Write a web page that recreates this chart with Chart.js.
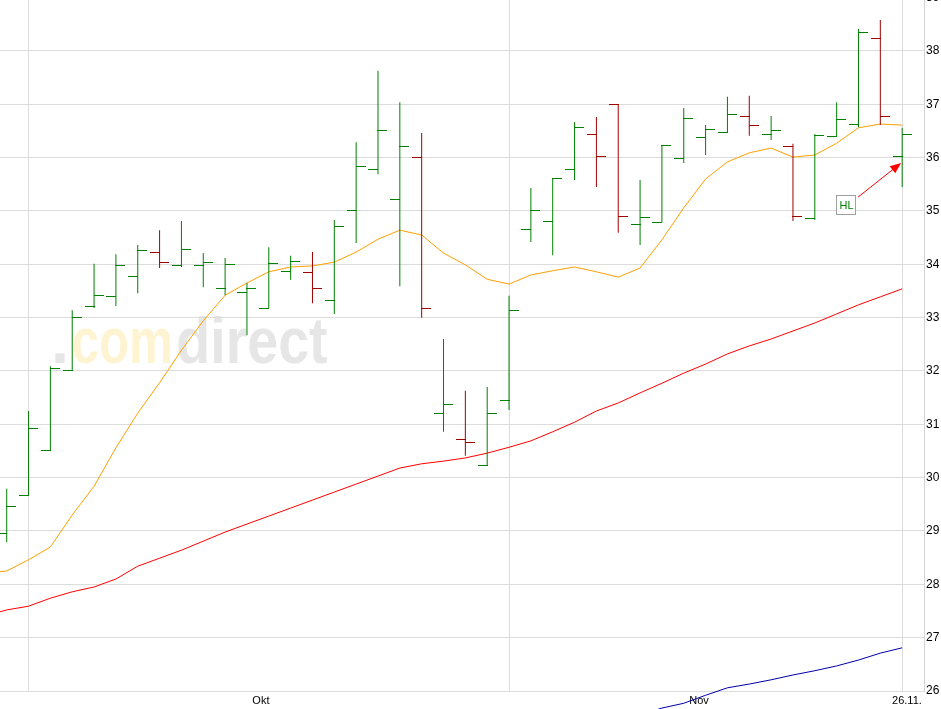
<!DOCTYPE html>
<html lang="de">
<head>
<meta charset="UTF-8">
<title>Kursverlauf</title>
<script src="https://cdn.jsdelivr.net/npm/chart.js"></script>
<style>
  html, body { margin: 0; padding: 0; background: #fff; }
  canvas { display: block; }
</style>
</head>
<body>
<canvas id="kurs" width="941" height="709"></canvas>
<script>
// Handelstage: Index 0 = erster Balken links, 41 = 26.11.
var eroeffnung = [28.96, 29.67, 30.5, 32.0, 33.2, 33.39, 33.78, 34.23, 33.97, 33.97,
  33.54, 33.48, 33.18, 33.86, 33.84, 33.33, 35.0, 35.77, 35.21, 36.0,
  31.21, 30.71, 30.22, 31.44, 34.66, 34.81, 35.77, 36.44, 37.0, 34.74,
  34.79, 35.99, 36.37, 36.48, 36.78, 36.44, 36.2, 34.85, 36.39, 36.63,
  38.24, 36.03];
var hoch = [29.79, 31.25, 32.09, 33.14, 34.01, 34.19, 34.36, 34.64, 34.81, 34.21,
  34.12, 33.65, 34.32, 34.16, 34.23, 34.83, 36.29, 37.63, 37.04, 36.46,
  32.6, 31.63, 31.7, 33.41, 35.43, 35.6, 36.67, 36.76, 37.0, 35.58,
  36.22, 36.93, 36.61, 37.14, 37.16, 36.78, 36.26, 36.44, 37.04, 38.41,
  38.58, 36.56];
var tief = [28.79, 29.67, 30.5, 32.0, 33.18, 33.22, 33.46, 33.93, 33.95, 33.57,
  33.42, 32.67, 33.18, 33.71, 33.27, 33.07, 34.4, 35.69, 33.59, 33.0,
  30.86, 30.41, 30.22, 31.27, 34.42, 34.17, 35.58, 35.45, 34.59, 34.36,
  34.79, 35.9, 36.05, 36.48, 36.41, 36.33, 34.81, 34.83, 36.39, 36.57,
  36.61, 35.45];
var schluss = [29.45, 30.93, 32.04, 33.01, 33.42, 33.97, 34.25, 34.04, 34.28, 34.04,
  34.0, 33.54, 34.02, 34.06, 33.54, 34.7, 35.83, 36.5, 36.2, 33.18,
  31.38, 30.65, 31.21, 33.14, 35.0, 35.6, 36.57, 36.03, 34.89, 34.87,
  36.22, 36.74, 36.52, 36.8, 36.61, 36.5, 34.9, 36.41, 36.71, 38.34,
  36.78, 36.44];

// gleitende Durchschnitte, beginnend bei Index -1
var gdKurz = [28.21, 28.25, 28.46, 28.7, 29.3, 29.84, 30.56, 31.21, 31.78, 32.39,
  32.94, 33.42, 33.65, 33.86, 33.95, 33.97, 34.04, 34.23, 34.47, 34.64,
  34.55, 34.21, 33.99, 33.72, 33.63, 33.8, 33.88, 33.95, 33.86, 33.76,
  33.93, 34.46, 35.06, 35.6, 35.92, 36.09, 36.18, 36.01, 36.05, 36.27,
  36.56, 36.63, 36.61];
var gdMittel = [27.41, 27.52, 27.59, 27.74, 27.86, 27.95, 28.1, 28.34, 28.49, 28.64,
  28.81, 28.98, 29.13, 29.28, 29.43, 29.58, 29.73, 29.88, 30.03, 30.18,
  30.26, 30.31, 30.37, 30.46, 30.57, 30.69, 30.86, 31.04, 31.25, 31.4,
  31.59, 31.77, 31.96, 32.13, 32.32, 32.47, 32.6, 32.75, 32.9, 33.07,
  33.24, 33.39, 33.54];
// langer Durchschnitt, beginnend bei Index 29
var gdLang = [25.55, 25.68, 25.77, 25.92, 26.06, 26.13, 26.21, 26.3, 26.38, 26.47,
  26.58, 26.71, 26.81];

var gitterTage = [1, 23, 41];
var datumsTage = [11.64, 31.7, 41.22];
var datumsTexte = ["Okt", "Nov", "26.11."];
var preisTicks = [26, 27, 28, 29, 30, 31, 32, 33, 34, 35, 36, 37, 38, 39];

// Hinweis "HL" mit Pfeil (Index, Kurs)
var hlBox = [38.41, 35.12];
var pfeilVon = [38.98, 35.26];
var pfeilNach = [40.95, 35.9];

var gruen = "#008000";
var rot = "#a00000";

// Eroeffnungs-/Schlussstriche als kleine Bilder
function strichBild(farbe, links) {
  var c = document.createElement("canvas");
  c.width = 19;
  c.height = 1;
  var g = c.getContext("2d");
  g.fillStyle = farbe;
  g.fillRect(links ? 0 : 9, 0, 10, 1);
  return c;
}
var offenGruen = strichBild(gruen, true);
var offenRot = strichBild(rot, true);
var schlussGruen = strichBild(gruen, false);
var schlussRot = strichBild(rot, false);

var spannen = [], offenPunkte = [], schlussPunkte = [];
var farben = [], offenStil = [], schlussStil = [];
for (var i = 0; i < eroeffnung.length; i++) {
  var steigt = schluss[i] >= eroeffnung[i];
  spannen.push({ x: i, y: [tief[i], hoch[i]] });
  offenPunkte.push({ x: i, y: eroeffnung[i] });
  schlussPunkte.push({ x: i, y: schluss[i] });
  farben.push(steigt ? gruen : rot);
  offenStil.push(steigt ? offenGruen : offenRot);
  schlussStil.push(steigt ? schlussGruen : schlussRot);
}

var linieKurz = gdKurz.map(function (v, k) { return { x: k - 1, y: v }; });
var linieMittel = gdMittel.map(function (v, k) { return { x: k - 1, y: v }; });
var linieLang = gdLang.map(function (v, k) { return { x: k + 29, y: v }; });

var wasserzeichen = {
  id: "wasserzeichen",
  beforeDraw: function (chart) {
    var c = chart.ctx;
    c.save();
    c.fillStyle = "#fff";
    c.fillRect(0, 0, chart.width, chart.height);
    c.font = 'bold 65px "Liberation Sans"';
    function teil(text, x0, breite, farbe) {
      var m = c.measureText(text);
      var w = m.actualBoundingBoxLeft + m.actualBoundingBoxRight;
      var f = breite / w;
      c.save();
      c.translate(x0 + m.actualBoundingBoxLeft * f, 363);
      c.scale(f, 1);
      c.fillStyle = farbe;
      c.fillText(text, 0, 0);
      c.restore();
    }
    teil(".", 55, 10, "#e6e6e6");
    teil("com", 73, 97, "#fff4d2");
    teil("direct", 178, 149, "#e6e6e6");
    c.restore();
  },
  beforeDatasetsDraw: function (chart) {
    chart.ctx.imageSmoothingEnabled = false;
  }
};

var hinweis = {
  id: "hinweis",
  afterDatasetsDraw: function (chart) {
    var sx = chart.scales.x, sy = chart.scales.y, c = chart.ctx;
    c.save();
    // Pfeil
    var x1 = sx.getPixelForValue(pfeilVon[0]), y1 = sy.getPixelForValue(pfeilVon[1]);
    var x2 = sx.getPixelForValue(pfeilNach[0]), y2 = sy.getPixelForValue(pfeilNach[1]);
    var w = Math.atan2(y2 - y1, x2 - x1);
    c.strokeStyle = "#ff0000";
    c.fillStyle = "#ff0000";
    c.lineWidth = 1;
    c.beginPath();
    c.moveTo(x1, y1);
    c.lineTo(x2 - 8 * Math.cos(w), y2 - 8 * Math.sin(w));
    c.stroke();
    c.beginPath();
    c.moveTo(x2, y2);
    c.lineTo(x2 - 11 * Math.cos(w) + 4.5 * Math.sin(w), y2 - 11 * Math.sin(w) - 4.5 * Math.cos(w));
    c.lineTo(x2 - 11 * Math.cos(w) - 4.5 * Math.sin(w), y2 - 11 * Math.sin(w) + 4.5 * Math.cos(w));
    c.closePath();
    c.fill();
    // Kasten
    var bx = Math.round(sx.getPixelForValue(hlBox[0])), by = Math.round(sy.getPixelForValue(hlBox[1]));
    c.fillStyle = "#fff";
    c.fillRect(bx - 9, by - 9, 19, 19);
    c.strokeStyle = "#a0a0a0";
    c.strokeRect(bx - 9.5, by - 9.5, 19, 19);
    c.fillStyle = gruen;
    c.font = '11px "Liberation Sans"';
    c.textAlign = "center";
    c.textBaseline = "middle";
    c.fillText("HL", bx + 0.5, by + 1);
    c.restore();
  }
};

Chart.defaults.font.family = '"Liberation Sans", Arial, sans-serif';

new Chart(document.getElementById("kurs"), {
  type: "bar",
  data: {
    datasets: [
      {
        type: "scatter",
        data: schlussPunkte,
        pointStyle: schlussStil,
        pointRadius: 5,
      },
      {
        type: "scatter",
        data: offenPunkte,
        pointStyle: offenStil,
        pointRadius: 5,
      },
      {
        type: "bar",
        data: spannen,
        backgroundColor: farben,
        barThickness: 1,
        borderWidth: 0,
        inflateAmount: 0,
      },
      {
        type: "line",
        data: linieKurz,
        borderColor: "#ffa000",
        borderWidth: 1,
        pointRadius: 0,
        tension: 0,
        fill: false,
      },
      {
        type: "line",
        data: linieMittel,
        borderColor: "#ff0000",
        borderWidth: 1,
        pointRadius: 0,
        tension: 0,
        fill: false,
      },
      {
        type: "line",
        data: linieLang,
        borderColor: "#0000a8",
        borderWidth: 1,
        pointRadius: 0,
        tension: 0,
        fill: false,
        clip: false,
      },
    ],
  },
  options: {
    responsive: false,
    animation: false,
    events: [],
    layout: { padding: 0, autoPadding: false },
    plugins: {
      legend: { display: false },
      tooltip: { enabled: false },
    },
    scales: {
      x: {
        type: "linear",
        position: "bottom",
        min: -0.307,
        max: 42.0,
        offset: false,
        grid: {
          offset: false,
          drawTicks: false,
          color: function (k) {
            return gitterTage.indexOf(k.tick.value) >= 0 ? "#dcdcdc" : "rgba(0,0,0,0)";
          },
        },
        border: { display: false },
        ticks: {
          autoSkip: false,
          maxRotation: 0,
          minRotation: 0,
          padding: 3,
          color: "#000",
          font: { size: 11 },
          callback: function (v) {
            var j = datumsTage.indexOf(v);
            return j >= 0 ? datumsTexte[j] : "";
          },
        },
        afterBuildTicks: function (s) {
          s.ticks = gitterTage.concat(datumsTage).map(function (v) { return { value: v }; });
        },
        afterFit: function (s) {
          s.height = 18;
          s.paddingLeft = 0;
          s.paddingRight = 0;
        },
      },
      y: {
        type: "linear",
        position: "right",
        min: 26,
        max: 38.956,
        grid: { color: "#dcdcdc", drawTicks: false },
        border: { color: "#d4d4d4" },
        ticks: { padding: 2, color: "#000", font: { size: 12 } },
        afterBuildTicks: function (s) {
          s.ticks = preisTicks.map(function (v) { return { value: v }; });
        },
        afterFit: function (s) {
          s.width = 17;
          s.paddingTop = 0;
          s.paddingBottom = 0;
        },
      },
    },
  },
  plugins: [wasserzeichen, hinweis],
});
</script>
</body>
</html>
